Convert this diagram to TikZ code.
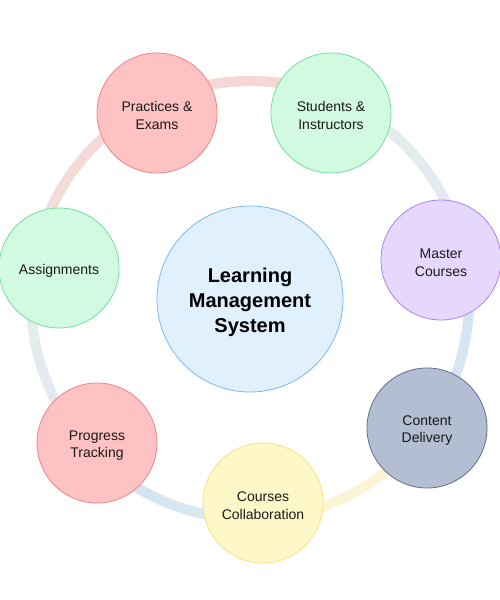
\documentclass[tikz,border=0pt]{standalone}
\usepackage{fontspec}
\setmainfont{Liberation Sans}
\definecolor{redF}{HTML}{FFC2C2}
\definecolor{redD}{HTML}{F08585}
\definecolor{grnF}{HTML}{D2FAE0}
\definecolor{grnD}{HTML}{72E0A0}
\definecolor{purF}{HTML}{E6D8FC}
\definecolor{purD}{HTML}{B080F2}
\definecolor{bluF}{HTML}{E0F1FD}
\definecolor{bluD}{HTML}{7CB8F2}
\definecolor{slaF}{HTML}{B3BED2}
\definecolor{slaD}{HTML}{5E6E8E}
\definecolor{yelF}{HTML}{FEF7C8}
\definecolor{yelD}{HTML}{FBE27E}
\definecolor{rPink}{HTML}{F7D6D6}
\definecolor{rBeige}{HTML}{EFE0DA}
\definecolor{rGreen}{HTML}{DFF3E6}
\definecolor{rLav}{HTML}{E7E3F7}
\definecolor{rBlue}{HTML}{CDE2F7}
\definecolor{rBlueG}{HTML}{DDE9EF}
\definecolor{rYel}{HTML}{FBF5D6}
\definecolor{rTeal}{HTML}{DFEBEA}
\newcommand\gradarc[4]{%
  \foreach \i in {0,...,39}{%
    \pgfmathsetmacro\aa{#1+(#2-#1)*\i/40}%
    \pgfmathsetmacro\bb{#1+(#2-#1)*(\i+1)/40+0.4*sign(#2-#1)}%
    \pgfmathsetmacro\pp{100-100*(\i+0.5)/40}%
    \draw[ringline, draw=#3!\pp!#4] (\aa:219pt) arc[start angle=\aa, end angle=\bb, radius=219pt];
  }}
\begin{document}
\begin{tikzpicture}[x=1pt,y=1pt,
  ringline/.style={line width=10pt, line cap=butt},
  sat/.style={circle, minimum size=120pt, inner sep=0pt, line width=0.8pt},
  txt/.style={align=center, yshift=-2.5pt, font=\fontsize{14}{17.7}\selectfont, text=black!90},
  hub/.style={circle, minimum size=186pt, inner sep=0pt, line width=0.8pt, fill=bluF, draw=bluD},
  hubtxt/.style={align=center, yshift=-3pt, font=\fontsize{20}{25}\selectfont\bfseries},
  redc/.style={sat, fill=redF, draw=redD},
  grnc/.style={sat, fill=grnF, draw=grnD},
  purc/.style={sat, fill=purF, draw=purD},
  slac/.style={sat, fill=slaF, draw=slaD},
  yelc/.style={sat, fill=yelF, draw=yelD}]
\useasboundingbox (0,0) rectangle (500,600);
\fill[white] (0,0) rectangle (500,600);
\begin{scope}[shift={(250,300)}]
  \gradarc{66.6}{116.4}{rPink}{rPink}
  \gradarc{11.8}{66.6}{rLav}{rGreen}
  \gradarc{-35.9}{11.8}{rBlueG}{rBlue}
  \gradarc{-86.3}{-35.9}{rYel}{rYel}
  \gradarc{-136.9}{-86.3}{rBlue}{rTeal}
  \gradarc{170.5}{223.1}{rGreen}{rLav}
  \gradarc{116.4}{170.5}{rPink}{rBeige}
\end{scope}
\node[hub, label={[hubtxt]center:Learning\\Management\\System}] (lms) at (250,301) {};
\node[redc, label={[txt]center:Practices \&\\Exams}] (pe) at (157,487) {};
\node[grnc, label={[txt]center:Students \&\\Instructors}] (si) at (331,487) {};
\node[purc, label={[txt]center:Master\\Courses}] (mc) at (441,340) {};
\node[slac, label={[txt]center:Content\\Delivery}] (cd) at (427,172) {};
\node[yelc, label={[txt]center:Courses\\Collaboration}] (cc) at (263,97) {};
\node[redc, label={[txt]center:Progress\\Tracking}] (pt) at (97,157) {};
\node[grnc, label={[txt]center:Assignments}] (as) at (59,332) {};
\end{tikzpicture}
\end{document}
